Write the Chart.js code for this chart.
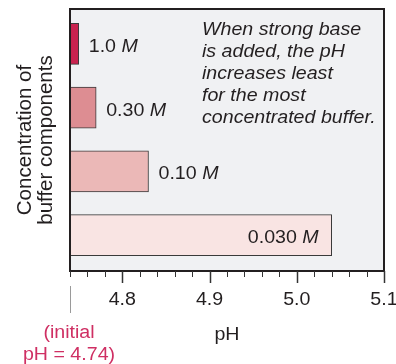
<!DOCTYPE html>
<html>
<head>
<meta charset="utf-8">
<script src="https://cdn.jsdelivr.net/npm/chart.js@4.4.0/dist/chart.umd.min.js"></script>
<style>
html,body{margin:0;padding:0;background:#ffffff;}
#wrap{width:396px;height:364px;position:relative;}
canvas{display:block;}
</style>
</head>
<body>
<div id="wrap"><canvas id="c" width="396" height="364"></canvas></div>
<script>
// ---- data ----
const categories = ['1.0 M', '0.30 M', '0.10 M', '0.030 M'];
const concNumbers = ['1.0', '0.30', '0.10', '0.030'];
const concUnit = 'M';
const phValues = [4.75, 4.77, 4.83, 5.04];
const initialPH = 4.74;
const axisMax = 5.1;
const majorTickValues = [4.8, 4.9, 5.0, 5.1];
const majorTickLabels = ['4.8', '4.9', '5.0', '5.1'];
const minorTickValues = [4.74, 4.76, 4.78, 4.80, 4.82, 4.84, 4.86, 4.88, 4.90, 4.92, 4.94, 4.96, 4.98, 5.00, 5.02, 5.04, 5.06, 5.08, 5.10];
const barColors = ['#c9234f', '#dd8d92', '#ebb8b7', '#f9e4e3'];
const yTitleLines = ['Concentration of', 'buffer components'];
const xTitle = 'pH';
const initialNoteLines = ['(initial', 'pH = 4.74)'];
const noteLines = ['When strong base', 'is added, the pH', 'increases least', 'for the most', 'concentrated buffer.'];

// ---- drawing helpers ----
const FONT = '"Liberation Sans", Arial, Helvetica, sans-serif';
const TEXT_COLOR = '#231f20';
const SX = 1.09;
function txt(ctx, s, x, y, o) {
  o = o || {};
  ctx.save();
  ctx.translate(x, y);
  if (o.rot) ctx.rotate(o.rot);
  ctx.scale(o.sx === undefined ? SX : o.sx, 1);
  ctx.font = (o.italic ? 'italic ' : '') + (o.size || 18) + 'px ' + FONT;
  ctx.fillStyle = o.color || TEXT_COLOR;
  ctx.textAlign = o.align || 'left';
  ctx.textBaseline = 'alphabetic';
  ctx.fillText(s, 0, 0);
  ctx.restore();
}
function measure(ctx, s, o) {
  ctx.save();
  ctx.font = (o && o.italic ? 'italic ' : '') + ((o && o.size) || 18) + 'px ' + FONT;
  const w = ctx.measureText(s).width * SX;
  ctx.restore();
  return w;
}

const decor = {
  id: 'decor',
  beforeDatasetsDraw(chart) {
    const ctx = chart.ctx;
    const x = chart.scales.x;
    const L = x.getPixelForValue(initialPH), R = x.getPixelForValue(axisMax);
    ctx.save();
    ctx.fillStyle = '#f0f1f3';
    ctx.fillRect(L, 9, R - L, 262);
    ctx.restore();
  },
  afterDatasetsDraw(chart) {
    const ctx = chart.ctx;
    const x = chart.scales.x;
    const L = x.getPixelForValue(initialPH), R = x.getPixelForValue(axisMax);
    const T = 9, B = 271;
    ctx.save();
    // frame
    ctx.strokeStyle = '#231f20';
    ctx.lineWidth = 2;
    ctx.strokeRect(L, T, R - L, B - T);
    // ticks
    ctx.lineWidth = 1;
    ctx.strokeStyle = '#333';
    minorTickValues.forEach(v => {
      const px = Math.round(x.getPixelForValue(v)) + 0.5;
      ctx.beginPath(); ctx.moveTo(px, B); ctx.lineTo(px, B + 6); ctx.stroke();
    });
    ctx.lineWidth = 1.5;
    majorTickValues.forEach(v => {
      const px = Math.round(x.getPixelForValue(v)) + 0.5;
      ctx.beginPath(); ctx.moveTo(px, B); ctx.lineTo(px, B + 12); ctx.stroke();
    });
    // initial pH marker line
    ctx.strokeStyle = '#9a9a9a';
    ctx.lineWidth = 1;
    const p0 = Math.round(L) + 0.5;
    ctx.beginPath(); ctx.moveTo(p0, 286); ctx.lineTo(p0, 313); ctx.stroke();
    ctx.restore();

    // tick labels
    majorTickValues.forEach((v, i) => {
      txt(ctx, majorTickLabels[i], x.getPixelForValue(v), 305, {align: 'center'});
    });
    // x title
    txt(ctx, xTitle, (L + R) / 2, 340, {align: 'center'});
    // initial note
    txt(ctx, initialNoteLines[0], L - 1, 338, {align: 'center', color: '#cf2f63'});
    txt(ctx, initialNoteLines[1], L - 1, 360, {align: 'center', color: '#cf2f63'});
    // annotation
    noteLines.forEach((s, i) => txt(ctx, s, 202, 35 + i * 22, {italic: true}));
    // y title
    txt(ctx, yTitleLines[0], 31, 140, {align: 'center', rot: -Math.PI / 2, sx: 1, size: 20.5});
    txt(ctx, yTitleLines[1], 52, 140, {align: 'center', rot: -Math.PI / 2, sx: 1, size: 20.5});

    // bar labels
    const meta = chart.getDatasetMeta(0);
    meta.data.forEach((bar, i) => {
      const num = concNumbers[i] + ' ';
      const wNum = measure(ctx, num);
      const wM = measure(ctx, concUnit, {italic: true});
      const total = wNum + wM;
      const barW = bar.x - bar.base;
      const y = bar.y + 8;
      let start;
      if (barW > 150) start = bar.x - 13 - total; else start = bar.x + 10;
      txt(ctx, num, start, y);
      txt(ctx, concUnit, start + wNum, y, {italic: true});
    });
  }
};

new Chart(document.getElementById('c'), {
  type: 'bar',
  data: {
    labels: categories,
    datasets: [{
      data: phValues,
      base: initialPH,
      backgroundColor: barColors,
      borderColor: '#3a3a3a',
      borderWidth: 1,
      borderSkipped: false,
      barThickness: 41
    }]
  },
  options: {
    indexAxis: 'y',
    responsive: false,
    animation: false,
    layout: {padding: {left: 70, right: 12, top: 12, bottom: 97}},
    scales: {
      x: {type: 'linear', min: initialPH, max: axisMax, display: false},
      y: {display: false}
    },
    plugins: {legend: {display: false}, tooltip: {enabled: false}}
  },
  plugins: [decor]
});
</script>
</body>
</html>
